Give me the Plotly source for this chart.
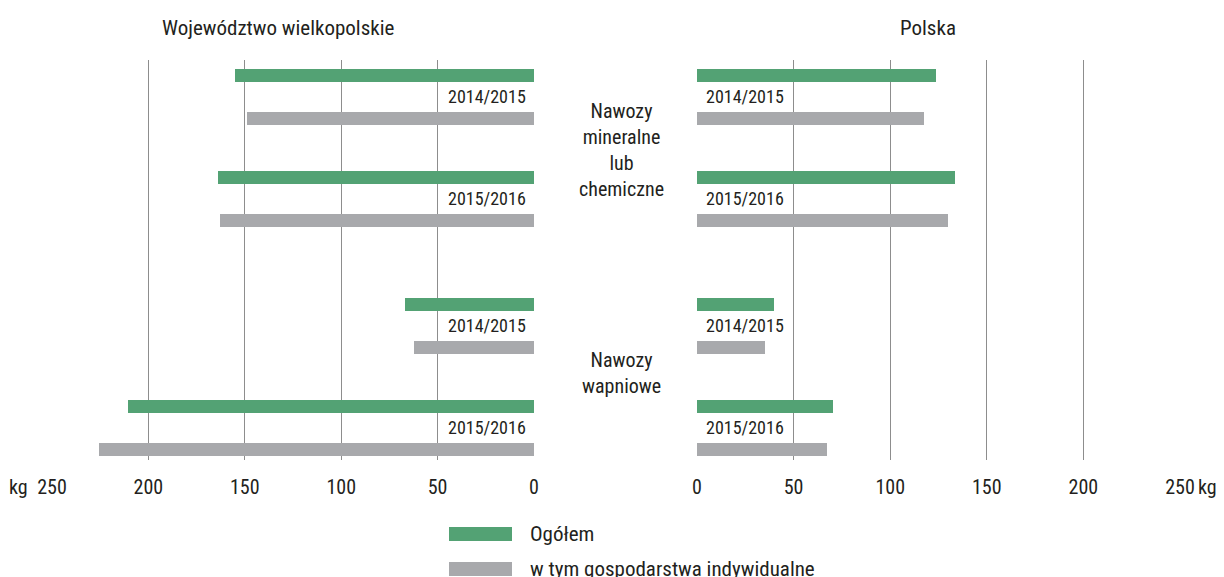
import plotly.graph_objects as go

# ---- data ----
groups = ["Nawozy<br>mineralne<br>lub<br>chemiczne", "Nawozy<br>wapniowe"]
periods = ["2014/2015", "2015/2016"]
series = ["Ogółem", "w tym gospodarstwa indywidualne"]
# values in kg per ha, order: [group][period]
wlkp_ogolem = [[155, 164], [67, 210.5]]
wlkp_indyw = [[149, 163], [62, 225.5]]
polska_ogolem = [[123.5, 133.5], [40, 70.5]]
polska_indyw = [[117.5, 130], [35, 67.5]]
tick_vals = [0, 50, 100, 150, 200, 250]
panel_titles = ["Województwo wielkopolskie", "Polska"]

GREEN = "#53a274"
GRAY = "#a8a9ac"
FONT = "Liberation Sans Narrow, Roboto Condensed, Arial Narrow, Liberation Sans, sans-serif"
TXT = "#231f20"
W, H = 1224, 577
OFF = 8  # page body margin offset

# layout helpers (vertical slot positions, in pixel-like units)
group_start = [75, 304]
period_step = 102
series_step = 43

def ypos(g, p, s):
    return group_start[g] + p * period_step + s * series_step

fig = go.Figure()
colors = [GREEN, GRAY]
for axis_id, data in (("x", (wlkp_ogolem, wlkp_indyw)), ("x2", (polska_ogolem, polska_indyw))):
    for s, vals in enumerate(data):
        ys, xs = [], []
        for g in range(len(groups)):
            for p in range(len(periods)):
                ys.append(ypos(g, p, s))
                xs.append(vals[g][p])
        fig.add_trace(go.Bar(x=xs, y=ys, orientation="h", width=13,
                             marker=dict(color=colors[s], line=dict(width=0)),
                             xaxis=axis_id, yaxis="y", showlegend=False,
                             name=series[s]))

def px(x):
    return (x - OFF) / W

def py(y):
    return 1 - (y - OFF) / H

axis_common = dict(tickvals=tick_vals, showgrid=True, gridcolor="#8d8d8d", gridwidth=1,
                   zeroline=False, showline=False, ticks="", ticklabelstandoff=13,
                   automargin=False,
                   tickfont=dict(family=FONT, size=20, color=TXT), fixedrange=True)
fig.update_layout(
    width=W, height=H, margin=dict(l=0, r=0, t=0, b=0, autoexpand=False),
    plot_bgcolor="white", paper_bgcolor="white", bargap=0,
    xaxis=dict(domain=[px(52), px(534)], range=[250, 0], anchor="y", **axis_common),
    xaxis2=dict(domain=[px(697), px(1180)], range=[0, 250], anchor="y", **axis_common),
    yaxis=dict(domain=[py(460), py(60)], range=[460, 60], showgrid=False, zeroline=False,
               showticklabels=False, showline=False, fixedrange=True, automargin=False),
)

def label(x, y, text, size=20, xanchor="center"):
    return dict(x=px(x), y=py(y), xref="paper", yref="paper", text=text, showarrow=False,
                xanchor=xanchor, yanchor="middle", font=dict(family=FONT, size=size, color=TXT))

ann = []
# panel titles
ann.append(label(278, 28, panel_titles[0], size=21))
ann.append(label(928, 28, panel_titles[1], size=21))
# kg units
ann.append(label(18, 487, "kg"))
ann.append(label(1207, 487, "kg"))
# period labels
for g in range(len(groups)):
    for p in range(len(periods)):
        yl = (ypos(g, p, 0) + ypos(g, p, 1)) / 2
        ann.append(dict(x=0, y=yl, xref="x", yref="y", text=periods[p], showarrow=False,
                        xanchor="right", yanchor="middle", xshift=-6,
                        font=dict(family=FONT, size=18, color=TXT)))
        ann.append(dict(x=0, y=yl, xref="x2", yref="y", text=periods[p], showarrow=False,
                        xanchor="left", yanchor="middle", xshift=7,
                        font=dict(family=FONT, size=18, color=TXT)))
# group labels
group_centers = [150, 373]
for g in range(len(groups)):
    ann.append(dict(x=px(621), y=group_centers[g], xref="paper", yref="y", text=groups[g],
                    showarrow=False, align="center", xanchor="center", yanchor="middle",
                    font=dict(family=FONT, size=20, color=TXT)))
# legend
leg_y = [534, 569]
shapes = []
for s in range(len(series)):
    shapes.append(dict(type="rect", xref="paper", yref="paper", x0=px(449), x1=px(512),
                       y0=py(leg_y[s] - 7), y1=py(leg_y[s] + 7), fillcolor=colors[s],
                       line=dict(width=0)))
    ann.append(label(528, leg_y[s], series[s], size=21, xanchor="left"))
fig.update_layout(annotations=ann, shapes=shapes)

fig.write_html("out.html")
